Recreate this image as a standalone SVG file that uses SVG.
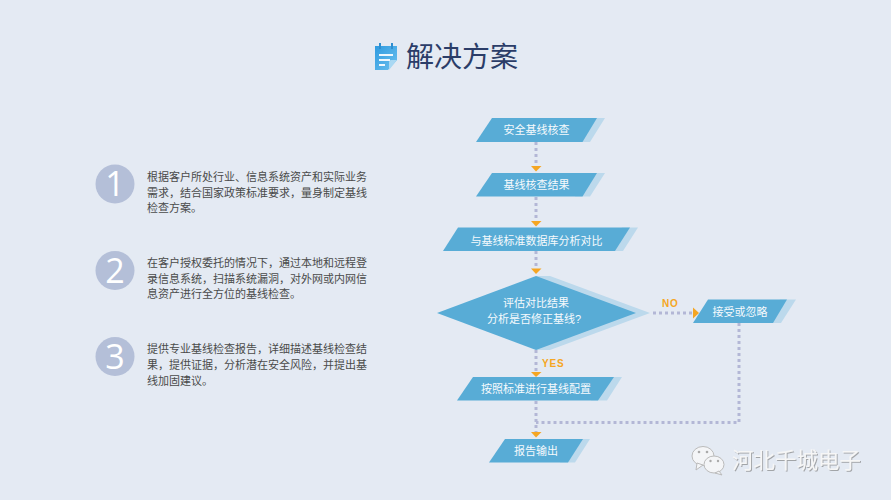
<svg xmlns="http://www.w3.org/2000/svg" width="891" height="500" viewBox="0 0 891 500">
<defs>
<filter id="soft" x="-5%" y="-20%" width="115%" height="150%"><feDropShadow dx="1" dy="1" stdDeviation=".6" flood-color="#777" flood-opacity=".6"/></filter>
<linearGradient id="ic" x1="0" y1="0" x2="1" y2="1"><stop offset="0" stop-color="#2f9be0"/><stop offset="1" stop-color="#6cc0ee"/></linearGradient>
</defs>
<style>
.cjk{font-family:"Liberation Sans","Noto Sans CJK SC",sans-serif}
.body{font-size:11px;fill:#4a4a4a}
.n{fill:#58acd6}.s{fill:#bcd9ec}
.nt{font-size:11px;fill:#f6fafd;text-anchor:middle}
.d{fill:none;stroke:#b3b7d6;stroke-width:3;stroke-dasharray:3 3}
.a{fill:#f5a623}
.num{font-family:"Open Sans","Liberation Sans",sans-serif;font-size:34px;fill:#fff;text-anchor:middle}
.yn{font-family:"Liberation Sans",sans-serif;font-size:10px;font-weight:bold;fill:#f5a623;letter-spacing:.8px}
.circ{fill:#b4bfd8}
</style>
<rect width="891" height="500" fill="#e4eaf3"/>
<g id="title">
<path d="M375 46H397V60L388 70H375Z" fill="url(#ic)"/>
<path d="M397 60H391Q389 60 389 62V70Z" fill="#a9d8f3"/>
<path d="M379 55H393M379 60H390M379 65H385" stroke="#eef7fd" stroke-width="2" fill="none"/>
<path d="M380 43V49M392 43V49" stroke="#2f8ed0" stroke-width="2" fill="none"/>
<text x="406" y="67" class="cjk" font-size="28" fill="#2b3d68">解决方案</text>
</g>
<g id="step1">
<circle class="circ" cx="115" cy="184" r="19.500"/><text class="num" x="115" y="196">1</text>
<text class="cjk body"><tspan x="147" y="181">根据客户所处行业、信息系统资产和实际业务</tspan><tspan x="147" y="197">需求，结合国家政策标准要求，量身制定基线</tspan><tspan x="147" y="212">检查方案。</tspan></text>
</g>
<g id="step2">
<circle class="circ" cx="115" cy="270.500" r="19.500"/><text class="num" x="115" y="282.500">2</text>
<text class="cjk body"><tspan x="147" y="267">在客户授权委托的情况下，通过本地和远程登</tspan><tspan x="147" y="283">录信息系统，扫描系统漏洞，对外网或内网信</tspan><tspan x="147" y="298">息资产进行全方位的基线检查。</tspan></text>
</g>
<g id="step3">
<circle class="circ" cx="115" cy="356.500" r="19.500"/><text class="num" x="115" y="368.500">3</text>
<text class="cjk body"><tspan x="147" y="353">提供专业基线检查报告，详细描述基线检查结</tspan><tspan x="147" y="369">果，提供证据，分析潜在安全风险，并提出基</tspan><tspan x="147" y="385">线加固建议。</tspan></text>
</g>
<g id="connectors">
<path class="d" d="M536 142V166"/>
<path class="d" d="M536 197V221"/>
<path class="d" d="M536 251V269"/>
<path class="d" d="M536 350V372"/>
<path class="d" d="M536 401V432"/>
<path class="d" d="M653 313H692"/>
<path class="d" d="M739 323V422.500H536"/>
<path class="a" d="M531 166H541.500L536 171.500Z"/>
<path class="a" d="M531 221H541.500L536 226.500Z"/>
<path class="a" d="M531 268.500H541.500L536 274Z"/>
<path class="a" d="M531 372H541.500L536 377Z"/>
<path class="a" d="M531 432H541.500L536 437.500Z"/>
<path class="a" d="M693 307.500L699 313L693 318.500Z"/>
<text class="yn" x="662" y="307">NO</text>
<text class="yn" x="542" y="367">YES</text>
</g>
<g id="node-1">
<path class="s" d="M590 118H605L590 142H575Z"/><path class="n" d="M492 118H597L582.500 142H476Z"/>
<text class="cjk nt" x="536.500" y="134">安全基线核查</text>
</g>
<g id="node-2">
<path class="s" d="M590 173H605L590 196.500H575Z"/><path class="n" d="M492 173H597L582.500 196.500H476Z"/>
<text class="cjk nt" x="536.500" y="189">基线核查结果</text>
</g>
<g id="node-3">
<path class="s" d="M622 227.500H638L623 251H607Z"/><path class="n" d="M458 227.500H630L615 251H443Z"/>
<text class="cjk nt" x="536.500" y="245">与基线标准数据库分析对比</text>
</g>
<g id="node-4">
<path class="s" d="M536 276H550L650 313L550 350H536Z"/><path class="n" d="M536 276L636 313L536 350L437 313Z"/>
<text class="cjk nt" x="536" y="307">评估对比结果</text>
<text class="cjk nt" x="534" y="323">分析是否修正基线?</text>
</g>
<g id="node-5">
<path class="s" d="M780 299.500H796L781 323H765Z"/><path class="n" d="M708 299.500H787L773 323H693Z"/>
<text class="cjk nt" x="740" y="316">接受或忽略</text>
</g>
<g id="node-6">
<path class="s" d="M606 377H622L607 400.500H591Z"/><path class="n" d="M473 377H614L598 400.500H457Z"/>
<text class="cjk nt" x="536" y="393">按照标准进行基线配置</text>
</g>
<g id="node-7">
<path class="s" d="M575 439H590L575 462.500H560Z"/><path class="n" d="M505 439H583L568 462.500H489Z"/>
<text class="cjk nt" x="536" y="455">报告输出</text>
</g>
<g id="watermark">
<ellipse cx="703" cy="456" rx="11" ry="9.500" fill="#f4f5f7" stroke="#bbb" stroke-width="1"/>
<path d="M697 463L696 470L703 465Z" fill="#f4f5f7" stroke="#bbb" stroke-width="1"/>
<ellipse cx="714" cy="464.500" rx="10" ry="8.500" fill="#f4f5f7" stroke="#bbb" stroke-width="1"/>
<path d="M719 471L722 475L715 473Z" fill="#f4f5f7" stroke="#bbb" stroke-width="1"/>
<circle cx="699" cy="452" r="1.300" fill="#aaa"/><circle cx="707" cy="452" r="1.300" fill="#aaa"/>
<circle cx="710.500" cy="461" r="1.200" fill="#aaa"/><circle cx="718" cy="461" r="1.200" fill="#aaa"/>
<text x="732" y="468" class="cjk" font-size="21.500" fill="#f6f6f6" filter="url(#soft)">河北千城电子</text>
</g>
</svg>
